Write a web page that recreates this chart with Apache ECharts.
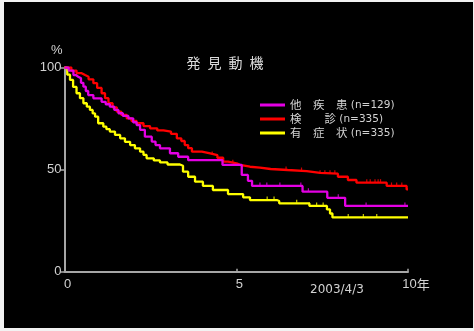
<!DOCTYPE html>
<html>
<head>
<meta charset="utf-8">
<script src="https://cdn.jsdelivr.net/npm/echarts@6/dist/echarts.min.js"></script>
<style>
  html, body { margin: 0; padding: 0; width: 474px; height: 331px; overflow: hidden; background: #f2f2f2; }
  #chart { position: absolute; left: 4px; top: 2px; width: 469px; height: 326px; background: #000; }
</style>
</head>
<body>
<div id="chart"></div>
<script>
// Kaplan-Meier survival by detection motive (years, % surviving)
const groupNames = ['他疾患', '検診', '有症状'];
const groupLabels = ['他\u3000疾\u3000患', '検\u3000\u3000診', '有\u3000症\u3000状'];
const groupCounts = [129, 335, 335];
const groupColors = ['#e400e4', '#ff0000', '#ffff00'];

const xTicks = [0, 5, 10];
const yTicks = [0, 50, 100];
const xUnit = '年';
const titleText = '発\u2002見\u2002動\u2002機';
const dateNote = '2003/4/3';

// 他疾患
const tOther = [0, 0.12, 0.26, 0.33, 0.4, 0.48, 0.55, 0.62, 0.69, 0.84, 1.08, 1.2, 1.32, 1.45, 1.57, 1.7, 1.86, 2.0, 2.1, 2.2, 2.34, 2.54, 2.65, 2.78, 3.07, 3.31, 3.6, 4.6, 5.16, 5.34, 5.46, 6.93, 7.65, 8.17];
const sOther = [100, 98.5, 96.3, 95.5, 94.7, 92.5, 90.6, 88.5, 86.5, 84.9, 83.2, 82, 80.8, 79.2, 77.6, 76.3, 75.1, 73.2, 71.8, 69.5, 66.1, 63.7, 62, 60.4, 58, 56.3, 54.6, 52.3, 47.4, 44.5, 42, 39.2, 36.2, 32.2];
const cOther = [5.69, 5.89, 6.27, 6.88, 7.1, 7.97, 8.78, 9.91];

// 検診
const tScreen = [0, 0.2, 0.35, 0.5, 0.6, 0.7, 0.84, 0.95, 1.08, 1.18, 1.28, 1.4, 1.52, 1.65, 1.81, 1.95, 2.1, 2.3, 2.49, 2.7, 2.88, 3.1, 3.27, 3.4, 3.5, 3.6, 3.71, 4.0, 4.24, 4.45, 4.62, 4.76, 5.01, 5.11, 5.4, 5.69, 6.0, 6.5, 7.05, 7.44, 7.96, 8.25, 8.5, 9.38, 9.96];
const sScreen = [100, 98.5, 97.2, 96.3, 95.5, 94.2, 92.3, 90, 87.4, 85, 82.5, 80.5, 78.4, 76.8, 75.1, 73.8, 72.7, 71.3, 70.2, 69.2, 68.6, 67.5, 65.3, 64, 62, 60.5, 58.8, 58, 57.1, 55.8, 53.9, 53.1, 52.3, 51.4, 51, 50.3, 49.8, 49.3, 48.4, 48, 46.5, 44.9, 43.6, 42, 40.3];
const cScreen = [4.3, 4.9, 6.45, 6.9, 7.44, 7.58, 7.73, 7.87, 8.8, 8.9, 9.04, 9.13, 9.2, 9.52, 9.67, 9.82];

// 有症状
const tSympt = [0, 0.08, 0.16, 0.25, 0.35, 0.45, 0.55, 0.65, 0.74, 0.82, 0.89, 0.98, 1.13, 1.22, 1.32, 1.47, 1.62, 1.76, 1.91, 2.05, 2.2, 2.3, 2.39, 2.6, 2.78, 3.0, 3.36, 3.45, 3.6, 3.8, 4.03, 4.32, 4.76, 5.2, 5.4, 6.18, 6.25, 7.13, 7.64, 7.73, 7.8];
const sSympt = [100, 96.5, 93.9, 90.5, 87.4, 85, 82.5, 80.8, 79.2, 77.5, 75.9, 72.7, 71, 69.8, 68.6, 67, 65.3, 63.6, 62, 60.4, 58.8, 57.2, 55.5, 54.5, 53.5, 52.5, 51.9, 49, 46.5, 44.1, 42, 40, 38, 36.4, 35.1, 34.6, 33.5, 32.2, 30.5, 28.5, 26.6];
const cSympt = [5.9, 6.1, 6.76, 7.13, 7.34, 7.53, 8.26, 8.7, 9.09];

const tEnd = 10;

// Turn event times and survival values into a right-continuous step path
function stepPath(ts, ss) {
  const pts = [[ts[0], ss[0]]];
  for (let i = 1; i < ts.length; i++) {
    pts.push([ts[i], ss[i - 1]]);
    pts.push([ts[i], ss[i]]);
  }
  pts.push([tEnd, ss[ss.length - 1]]);
  return pts;
}
function survivalAt(ts, ss, t) {
  let v = ss[0];
  for (let i = 0; i < ts.length; i++) if (ts[i] <= t) v = ss[i];
  return v;
}

const curves = [
  { t: tOther, s: sOther, c: cOther },
  { t: tScreen, s: sScreen, c: cScreen },
  { t: tSympt, s: sSympt, c: cSympt }
];

const series = [];
curves.forEach((cv, i) => {
  series.push({
    name: groupNames[i],
    type: 'line',
    data: stepPath(cv.t, cv.s),
    showSymbol: false,
    symbol: 'none',
    lineStyle: { color: groupColors[i], width: 2.3 },
    itemStyle: { color: groupColors[i] },
    z: 3 - i,
    animation: false
  });
  series.push({
    name: groupNames[i] + '-censor',
    type: 'scatter',
    data: cv.c.map(t => [t, survivalAt(cv.t, cv.s, t)]),
    symbol: 'rect',
    symbolSize: [1.2, 3],
    symbolOffset: [0, -2],
    itemStyle: { color: groupColors[i] },
    silent: true,
    z: 3 - i,
    animation: false
  });
});

const axisGrey = '#a6a6a6';
const textGrey = '#d2d2d2';

const chart = echarts.init(document.getElementById('chart'));
chart.setOption({
  backgroundColor: '#000',
  animation: false,
  grid: { left: 60.5, top: 65.5, width: 343.5, height: 204.2, containLabel: false },
  title: {
    text: titleText,
    left: 216, top: 49, textAlign: 'center',
    textStyle: { color: '#dcdcdc', fontSize: 14, fontWeight: 'normal', fontFamily: 'Noto Sans CJK JP' }
  },
  legend: {
    data: groupNames,
    orient: 'vertical',
    left: 251, top: 91,
    icon: 'rect',
    itemWidth: 25, itemHeight: 3,
    itemGap: 0,
    itemTextGap: 3,
    formatter: name => {
      const i = groupNames.indexOf(name);
      return '{c|' + groupLabels[i] + '}{n| (n=' + groupCounts[i] + ')}';
    },
    textStyle: {
      color: textGrey,
      lineHeight: 14,
      rich: {
        c: { fontSize: 11.5, fontFamily: 'Noto Sans CJK JP', color: textGrey, lineHeight: 14 },
        n: { fontSize: 10.5, fontFamily: 'DejaVu Sans', color: textGrey, lineHeight: 14 }
      }
    }
  },
  xAxis: {
    type: 'value', min: xTicks[0], max: xTicks[xTicks.length - 1], interval: xTicks[1] - xTicks[0],
    axisLine: { show: true, lineStyle: { color: axisGrey, width: 2 } },
    axisTick: { show: true, inside: true, length: 3, lineStyle: { color: axisGrey, width: 1.5 } },
    splitLine: { show: false },
    axisLabel: {
      margin: 6,
      formatter: v => v === xTicks[xTicks.length - 1] ? '{m|' + v + '}{u|' + xUnit + '}' : '{n|' + v + '}',
      rich: {
        n: { fontSize: 13, fontFamily: 'Liberation Sans', color: textGrey, padding: [0, 0, 0, 6] },
        m: { fontSize: 13, fontFamily: 'Liberation Sans', color: textGrey, padding: [0, 0, 0, 16] },
        u: { fontSize: 13, fontFamily: 'Noto Sans CJK JP', color: textGrey }
      }
    }
  },
  yAxis: {
    type: 'value', min: yTicks[0], max: yTicks[yTicks.length - 1], interval: yTicks[1] - yTicks[0],
    axisLine: { show: true, lineStyle: { color: axisGrey, width: 2 } },
    axisTick: { show: true, inside: false, length: 4, lineStyle: { color: axisGrey, width: 1.5 } },
    splitLine: { show: false },
    axisLabel: { margin: 3, color: textGrey, fontSize: 13, fontFamily: 'Liberation Sans' }
  },
  graphic: [
    { type: 'text', left: 47, top: 42, style: { text: '%', fill: textGrey, fontSize: 13, fontFamily: 'Liberation Sans' } },
    { type: 'text', left: 306, top: 282, style: { text: dateNote, fill: textGrey, fontSize: 12, fontFamily: 'DejaVu Sans' } }
  ],
  series: series
});
</script>
</body>
</html>
